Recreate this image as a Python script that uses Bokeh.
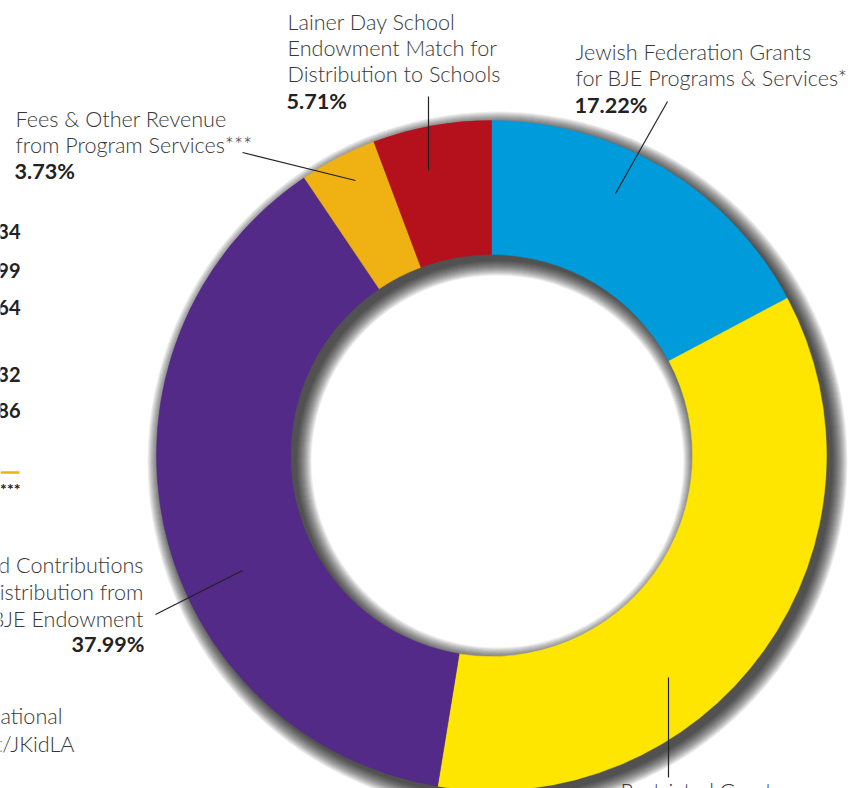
from bokeh.plotting import figure
from bokeh.models import Range1d
from bokeh.core.properties import value
from bokeh.embed import file_html
from bokeh.resources import INLINE
import math

# ---------------- data ----------------
categories = [
    "Jewish Federation Grants for BJE Programs & Services*",
    "Restricted Grants",
    "Unrestricted Contributions & Distribution from the BJE Endowment",
    "Fees & Other Revenue from Program Services***",
    "Lainer Day School Endowment Match for Distribution to Schools",
]
shares = [17.22, 35.35, 37.99, 3.73, 5.71]
colors = ["#009BDB", "#FFE600", "#532A87", "#F0B213", "#B5111C"]

side_numbers = ["34", "99", "64", "32", "86"]

# ---------------- figure ----------------
H = 788
p = figure(width=857, height=788, x_range=Range1d(0, 857), y_range=Range1d(0, 788),
           output_backend="svg", toolbar_location=None, min_border=0)
p.axis.visible = False
p.grid.visible = False
p.outline_line_color = None
p.background_fill_color = "white"
p.border_fill_color = "white"


def Y(py):
    return H - py


def TY(py):
    # text baseline position (compensate renderer baseline offset)
    return H - (py - 8)


cx, cy = 491, Y(455)
r_in, r_out = 201, 335

# drop shadow (soft, offset down-right)
dx, dy = 6, 6
for s in range(0, 16):
    p.annulus(x=cx + dx, y=cy - dy, inner_radius=r_in - s, outer_radius=r_out + s,
              fill_color="black", fill_alpha=0.065, line_color=None)

# donut
total = sum(shares)
cum = 0.0
starts, ends = [], []
for v in shares:
    starts.append(math.pi / 2 - 2 * math.pi * cum / total)
    cum += v
    ends.append(math.pi / 2 - 2 * math.pi * cum / total)

p.annular_wedge(x=cx, y=cy, inner_radius=r_in, outer_radius=r_out,
                start_angle=starts, end_angle=ends, direction="clock",
                fill_color=colors, line_color=colors, line_width=0.5)

# leader lines
leaders = [
    ((667, 101), (615, 193)),   # Jewish Federation
    ((668, 677), (668, 777)),   # Restricted grants
    ((155, 614), (242, 570)),   # Unrestricted contributions
    ((242, 152), (355, 180)),   # Fees
    ((428, 96), (428, 170)),    # Lainer
]
for (x0, y0), (x1, y1) in leaders:
    p.line(x=[x0, x1], y=[Y(y0), Y(y1)], line_color="#222222", line_width=1.2)

font = value("Lato Light")
bfont = value("Lato")
light = "#383838"
dark = "#222222"
fs = "21.6px"

pct = [f"{v:.2f}%" for v in shares]

# Lainer label
p.text(x=[287, 287, 287], y=[TY(29), TY(55), TY(81)],
       text=["Lainer Day School", "Endowment Match for", "Distribution to Schools"],
       text_font=font, text_font_size=fs, text_color=light, text_baseline="alphabetic")
p.text(x=[286], y=[TY(108)], text=[pct[4]], text_font=bfont, text_font_size=fs,
       text_font_style="bold", text_color=dark, text_baseline="alphabetic")

# Jewish Federation label
p.text(x=[575, 575], y=[TY(59), TY(85)],
       text=["Jewish Federation Grants", "for BJE Programs & Services*"],
       text_font=font, text_font_size=fs, text_color=light, text_baseline="alphabetic")
p.text(x=[574], y=[TY(112)], text=[pct[0]], text_font=bfont, text_font_size=fs,
       text_font_style="bold", text_color=dark, text_baseline="alphabetic")

# Fees label
p.text(x=[15, 15], y=[TY(126), TY(152)],
       text=["Fees & Other Revenue", "from Program Services***"],
       text_font=font, text_font_size=fs, text_color=light, text_baseline="alphabetic")
p.text(x=[14], y=[TY(178)], text=[pct[3]], text_font=bfont, text_font_size=fs,
       text_font_style="bold", text_color=dark, text_baseline="alphabetic")

# Unrestricted label (right aligned, cut at the left edge)
p.text(x=[143, 143, 143], y=[TY(572), TY(599), TY(626)],
       text=["Unrestricted Contributions", "& Distribution from", "the BJE Endowment"],
       text_font=font, text_font_size=fs, text_color=light, text_align="right",
       text_baseline="alphabetic")
p.text(x=[144], y=[TY(651)], text=[pct[2]], text_font=bfont, text_font_size=fs,
       text_font_style="bold", text_color=dark, text_align="right", text_baseline="alphabetic")

# Restricted grants label (mostly below the visible area)
p.text(x=[620], y=[TY(798)], text=["Restricted Grants"],
       text_font=font, text_font_size=fs, text_color=light, text_baseline="alphabetic")

# side table fragments
p.text(x=[20] * 5, y=[TY(239), TY(278), TY(315), TY(382), TY(418)], text=side_numbers,
       text_font=bfont, text_font_size="20px", text_font_style="bold", text_color=dark,
       text_align="right", text_baseline="alphabetic")
p.line(x=[0, 19], y=[Y(472), Y(472)], line_color="#F0B213", line_width=2.5)
p.text(x=[20], y=[TY(496)], text=["***"], text_font=bfont, text_font_size="16px",
       text_font_style="bold", text_color=dark, text_align="right", text_baseline="alphabetic")

# footnote fragments
p.text(x=[62, 74], y=[TY(723), TY(751)], text=["ational", "t/JKidLA"],
       text_font=font, text_font_size=fs, text_color=light, text_align="right",
       text_baseline="alphabetic")

open("out.html", "w").write(file_html(p, INLINE))
